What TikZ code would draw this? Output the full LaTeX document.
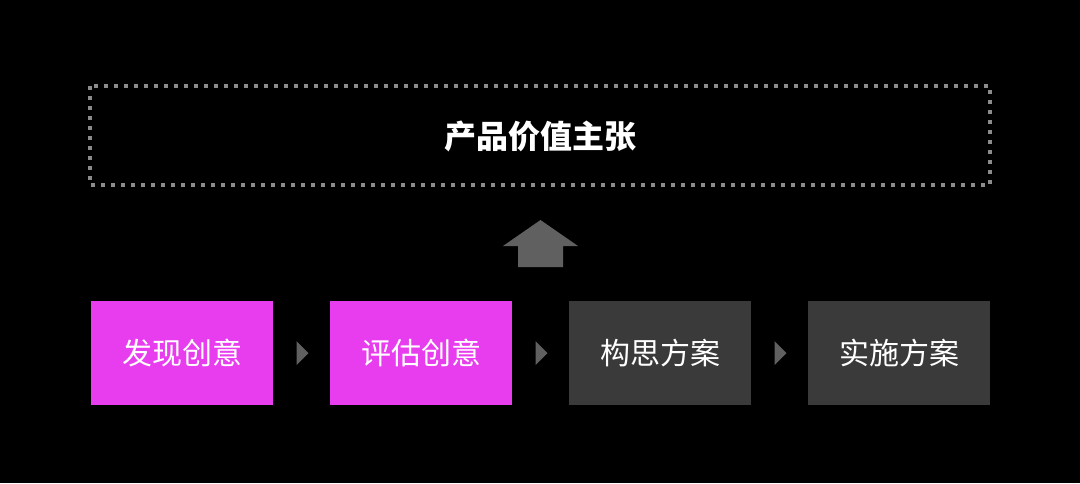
\documentclass[tikz,border=0pt]{standalone}
\usepackage{fontspec}
\newfontfamily\cjk{Noto Sans CJK SC}
\newfontfamily\cjkb{Noto Sans CJK SC}[BoldFont={Noto Sans CJK SC Bold}]
\definecolor{mag}{HTML}{E83CEF}
\definecolor{dk}{HTML}{3A3A3A}
\definecolor{ar}{HTML}{606060}
\begin{document}
\begin{tikzpicture}[x=1pt,y=-1pt,
  stepbox/.style={minimum width=182pt,minimum height=104pt,inner sep=0pt,text=white,font=\cjk\fontsize{30}{30}\selectfont},
  tri/.style={fill=ar,draw=none}]
\fill[black] (0,0) rectangle (1080,483);
\useasboundingbox (0,0) rectangle (1080,483);
\draw[color=gray!90,line width=4pt,dash pattern=on 4pt off 6pt] (90,86) rectangle (990,185);
\node[text=white,font=\cjk\bfseries\fontsize{32}{32}\selectfont] (title) at (540,136) {产品价值主张};
\fill[ar] (503,246) -- (540.5,220) -- (578,246) -- (563,246) -- (563,267) -- (518,267) -- (518,246) -- cycle;
\node[stepbox,fill=mag] (a) at (182,353) {发现创意};
\node[stepbox,fill=mag] (b) at (421,353) {评估创意};
\node[stepbox,fill=dk] (c) at (660,353) {构思方案};
\node[stepbox,fill=dk] (d) at (899,353) {实施方案};
\foreach \p/\q in {a/b,b/c,c/d}{
  \path (\p.east) -- (\q.west) coordinate[pos=0.5] (m\p);
  \fill[ar] ([xshift=-5pt,yshift=-12pt]m\p) -- ([xshift=7pt]m\p) -- ([xshift=-5pt,yshift=12pt]m\p) -- cycle;
}
\end{tikzpicture}
\end{document}
